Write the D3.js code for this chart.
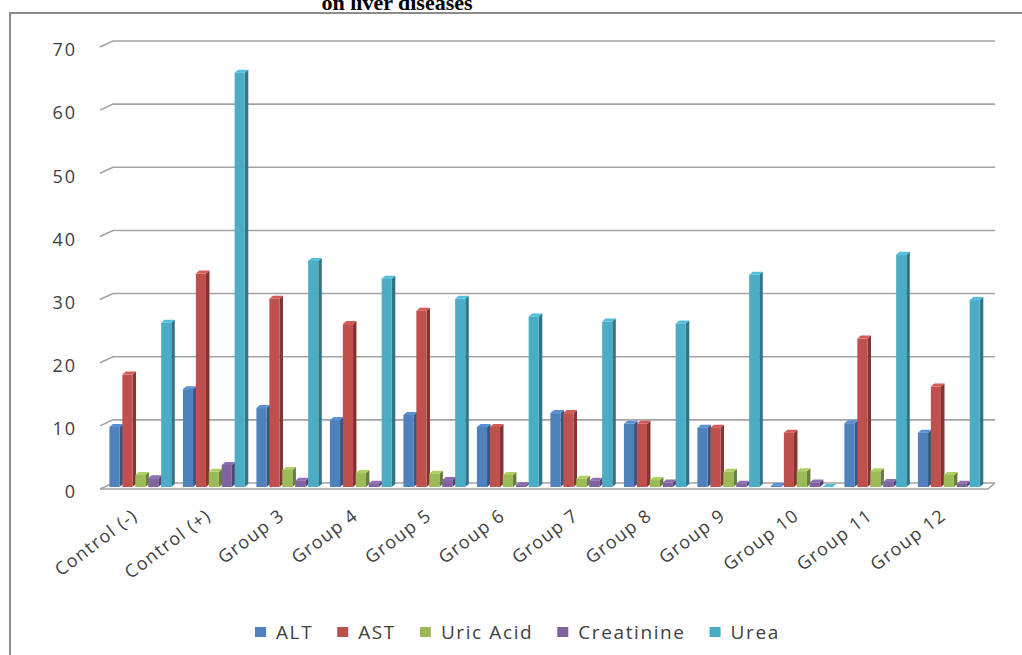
<!DOCTYPE html>
<html>
<head>
<meta charset="utf-8">
<script src="https://cdn.jsdelivr.net/npm/d3@7/dist/d3.min.js"></script>
<style>
  html, body { margin: 0; padding: 0; background: #ffffff; }
  svg { display: block; }
</style>
</head>
<body>
<div id="chart"></div>
<script>
// ---- Data ----
const categories = ["Control (-)", "Control (+)", "Group 3", "Group 4", "Group 5", "Group 6",
                    "Group 7", "Group 8", "Group 9", "Group 10", "Group 11", "Group 12"];
const seriesNames = ["ALT", "AST", "Uric Acid", "Creatinine", "Urea"];
const altValues        = [9.5, 15.5, 12.5, 10.6, 11.4, 9.5, 11.7, 10.0, 9.4, 0.2, 10.1, 8.6];
const astValues        = [17.8, 33.8, 29.8, 25.8, 27.9, 9.5, 11.7, 10.0, 9.4, 8.6, 23.5, 15.9];
const uricAcidValues   = [1.9, 2.4, 2.7, 2.2, 2.1, 1.9, 1.3, 1.1, 2.4, 2.5, 2.5, 1.9];
const creatinineValues = [1.4, 3.5, 1.0, 0.5, 1.1, 0.3, 1.0, 0.7, 0.5, 0.7, 0.8, 0.5];
const ureaValues       = [26.0, 65.6, 35.8, 33.0, 29.8, 27.0, 26.2, 25.9, 33.6, 0, 36.8, 29.6];
const yTicks = [0, 10, 20, 30, 40, 50, 60, 70];
const titleText = "on liver diseases";

const seriesValues = [altValues, astValues, uricAcidValues, creatinineValues, ureaValues];
const colors = ["#4F81BD", "#C0504D", "#9BBB59", "#8064A2", "#4BACC6"];

// ---- Layout ----
const W = 1022, H = 655;
const svg = d3.select("#chart").append("svg").attr("width", W).attr("height", H);

// frame
svg.append("rect").attr("x", 10).attr("y", 13).attr("width", 1040).attr("height", 700)
  .attr("fill", "#ffffff").attr("stroke", "#8c8c8c").attr("stroke-width", 2);

// title (partly cut at top, as in the reference)
svg.append("text").attr("x", 397).attr("y", 10).attr("text-anchor", "middle")
  .attr("font-family", "'Liberation Serif', 'Times New Roman', serif")
  .attr("font-weight", "bold").attr("font-size", 22).attr("fill", "#000")
  .text(titleText);

const y = d3.scaleLinear().domain([0, 70]).range([483, 41]);
const x = d3.scaleBand().domain(categories).range([105, 987]).paddingInner(0.12).paddingOuter(0.06);
const xs = d3.scaleBand().domain(seriesNames).range([0, x.bandwidth()]);

const stubDx = 13, stubDy = 6;
const gridRight = 995;
const frontOff = 4; // front face vertical offset

// gridlines with 3D stubs
const grid = svg.append("g");
yTicks.forEach(t => {
  const gy = y(t);
  grid.append("path")
    .attr("d", `M${113 - stubDx},${gy + stubDy} L113,${gy} L${gridRight},${gy}`)
    .attr("fill", "none").attr("stroke", "#a3a3a3").attr("stroke-width", 1.6);
});
// floor front edge
grid.append("path")
  .attr("d", `M${113 - stubDx},${y(0) + stubDy} L${gridRight - 7},${y(0) + stubDy} L${gridRight},${y(0)}`)
  .attr("fill", "none").attr("stroke", "#a3a3a3").attr("stroke-width", 1.6);

// y-axis labels
const yAxis = d3.axisLeft(y).tickValues(yTicks).tickSize(0).tickPadding(0);
const yg = svg.append("g").attr("transform", `translate(${77},${stubDy + 3})`).call(yAxis);
yg.select(".domain").remove();
yg.selectAll("text").attr("font-family", "'Open Sans', sans-serif").attr("font-size", 18)
  .attr("letter-spacing", 2).attr("fill", "#404040");

// bars (3D-like)
const fw = xs.bandwidth() - 2.8, dx = 3.5, dy = 3;
const bars = svg.append("g");
categories.forEach((c, ci) => {
  seriesNames.forEach((s, si) => {
    const v = seriesValues[si][ci];
    const x0 = x(c) + xs(s);
    const yt = y(v) + frontOff, yb = y(0) + frontOff;
    const base = d3.color(colors[si]);
    const side = base.darker(1.1).formatHex();
    const top = base.brighter(0.3).formatHex();
    const g = bars.append("g");
    g.append("path")
      .attr("d", `M${x0 + fw},${yt} L${x0 + fw + dx},${yt - dy} L${x0 + fw + dx},${yb - dy} L${x0 + fw},${yb} Z`)
      .attr("fill", side);
    g.append("path")
      .attr("d", `M${x0},${yt} L${x0 + dx},${yt - dy} L${x0 + fw + dx},${yt - dy} L${x0 + fw},${yt} Z`)
      .attr("fill", top);
    g.append("rect").attr("x", x0).attr("y", yt).attr("width", fw).attr("height", Math.max(0, yb - yt))
      .attr("fill", colors[si]);
  });
});

// x-axis labels, rotated
const xl = svg.append("g");
categories.forEach(c => {
  xl.append("text")
    .attr("transform", `translate(${x(c) + x.bandwidth() / 2 - 3},${518}) rotate(-37)`)
    .attr("text-anchor", "end")
    .attr("font-family", "'Open Sans', sans-serif").attr("font-size", 18)
    .attr("letter-spacing", 1.3).attr("fill", "#404040")
    .text(c);
});

// legend
const lg = svg.append("g");
let lx = 255;
seriesNames.forEach((s, i) => {
  lg.append("rect").attr("x", lx).attr("y", 627).attr("width", 11).attr("height", 10).attr("fill", colors[i]);
  const t = lg.append("text").attr("x", lx + 21).attr("y", 639)
    .attr("font-family", "'Open Sans', sans-serif").attr("font-size", 19)
    .attr("letter-spacing", 1.6).attr("fill", "#404040").text(s);
  lx = lx + 21 + t.node().getComputedTextLength() + 24;
});
</script>
</body>
</html>
